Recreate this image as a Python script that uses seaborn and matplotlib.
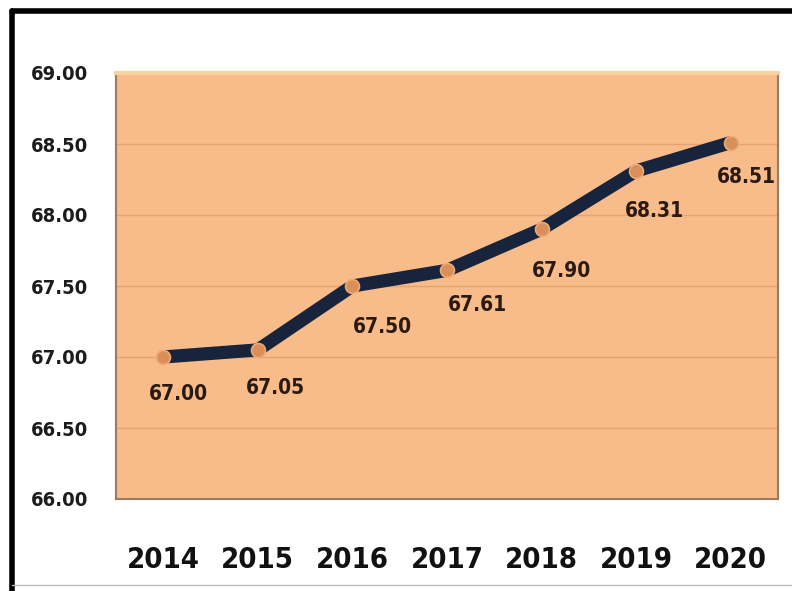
import matplotlib
matplotlib.use("Agg")
import matplotlib.pyplot as plt
import seaborn as sns
import pandas as pd
from matplotlib.lines import Line2D

years = ["2014", "2015", "2016", "2017", "2018", "2019", "2020"]
values = [67.00, 67.05, 67.50, 67.61, 67.90, 68.31, 68.51]
value_labels = ["67.00", "67.05", "67.50", "67.61", "67.90", "68.31", "68.51"]
y_ticks = [66.0, 66.5, 67.0, 67.5, 68.0, 68.5, 69.0]
y_tick_labels = ["66.00", "66.50", "67.00", "67.50", "68.00", "68.50", "69.00"]

sns.set_theme(style="white")
plt.rcParams['font.family'] = ['DejaVu Sans']

df = pd.DataFrame({"year": years, "value": values})

W, H = 792, 591
fig = plt.figure(figsize=(W / 100, H / 100), dpi=100)
fig.patch.set_facecolor("white")

left, right, top, bottom = 116, 778, 73, 499
ax = fig.add_axes([left / W, (H - bottom) / H, (right - left) / W, (bottom - top) / H])
ax.set_facecolor("#F8BC8A")

sns.lineplot(data=df, x="year", y="value", ax=ax, color="#17243c", linewidth=9.5,
             marker="o", markersize=10, markerfacecolor="#DA8E58",
             markeredgecolor="#EBAA7A", markeredgewidth=1.2, sort=False, zorder=3)

ax.set_xlim(-0.5, 6.5)
ax.set_ylim(66.0, 69.0)
ax.set_yticks(y_ticks)
ax.set_yticklabels(y_tick_labels)
ax.yaxis.grid(True, color="#E5A273", linewidth=1.0)
ax.xaxis.grid(False)
ax.set_axisbelow(True)
ax.set_xlabel("")
ax.set_ylabel("")

fp_y = dict(family="DejaVu Sans", stretch="condensed", weight="bold", size=14.5, color="#1c1c1c")
fp_x = dict(family="DejaVu Sans", stretch="condensed", weight="bold", size=21, color="#111111")
for t in ax.get_yticklabels():
    t.set(**fp_y)
for t in ax.get_xticklabels():
    t.set(**fp_x)
ax.tick_params(axis="y", length=0, pad=20)
ax.tick_params(axis="x", length=0, pad=34)

for s in ["left", "bottom", "right"]:
    ax.spines[s].set_color("#9b7a60")
    ax.spines[s].set_linewidth(1.5)
ax.spines["top"].set_color("#F7D49C")
ax.spines["top"].set_linewidth(3)

offsets = [(15, -37), (18, -38), (30, -41), (30, -35), (20, -42), (18, -40), (16, -34)]
for i, (v, lab) in enumerate(zip(values, value_labels)):
    ax.annotate(lab, (i, v), textcoords="offset pixels", xytext=offsets[i],
                ha="center", va="center", family="DejaVu Sans", stretch="condensed",
                weight="bold", size=15, color="#2a1a12", zorder=4)

# outer black frame (top and left)
fig.add_artist(Line2D([12 / W, 1.0], [1 - 11 / H, 1 - 11 / H], color="black", linewidth=4,
                      transform=fig.transFigure))
fig.add_artist(Line2D([12 / W, 12 / W], [1 - 11 / H, 0.0], color="black", linewidth=4,
                      transform=fig.transFigure))
fig.add_artist(Line2D([12 / W, 1.0], [1 - 585 / H, 1 - 585 / H], color="#bbbbbb", linewidth=1,
                      transform=fig.transFigure))

fig.savefig("out.png", dpi=100, facecolor="white")
